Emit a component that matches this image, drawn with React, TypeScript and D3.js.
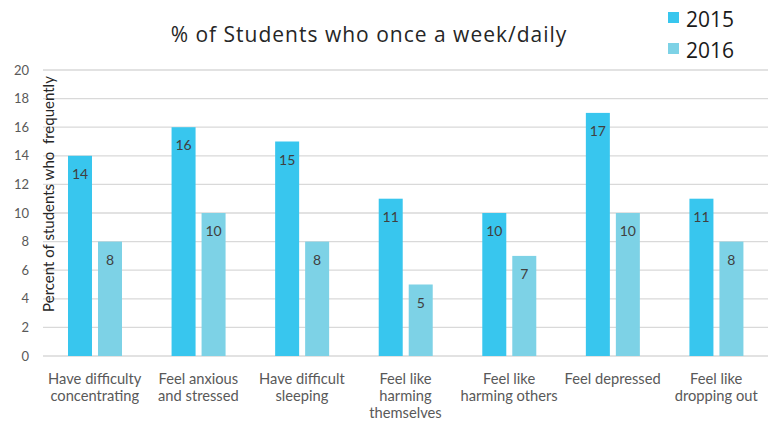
import React from "react";
import * as d3 from "d3";

const categories = [
  ["Have difficulty", "concentrating"],
  ["Feel anxious", "and stressed"],
  ["Have difficult", "sleeping"],
  ["Feel like", "harming", "themselves"],
  ["Feel like", "harming others"],
  ["Feel depressed"],
  ["Feel like", "dropping out"],
];
const series = ["2015", "2016"];
const values2015 = [14, 16, 15, 11, 10, 17, 11];
const values2016 = [8, 10, 8, 5, 7, 10, 8];
const yTicks = [0, 2, 4, 6, 8, 10, 12, 14, 16, 18, 20];
const colors = ["#38C6EE", "#7DD2E6"];

const W = 773;
const H = 422;
const left = 43;
const right = 768;
const top = 70;
const bottom = 356;

export default function App() {
  const keys = categories.map((c) => c.join(" "));
  const x0 = d3.scaleBand<string>().domain(keys).range([left, right]).padding(0);
  const x1 = d3.scaleBand<string>().domain(series).range([25, 79]).paddingInner(0.2);
  const y = d3.scaleLinear().domain([0, 20]).range([bottom, top]);
  const data = [values2015, values2016];
  const labelFont = "Lato, 'Open Sans', sans-serif";

  return (
    <svg width={W} height={H} style={{ position: "absolute", left: 0, top: 0, background: "#fff" }}>
      {yTicks.map((t) => (
        <g key={t}>
          <line x1={left} x2={right} y1={y(t)} y2={y(t)} stroke="#D9D9D9" strokeWidth={1.3} />
          <text x={29} y={y(t)} dy="0.35em" textAnchor="end" fontSize={13} fill="#595959" fontFamily={labelFont}>
            {t}
          </text>
        </g>
      ))}
      {keys.map((k, i) =>
        series.map((s, j) => {
          const v = data[j][i];
          const bx = (x0(k) as number) + (x1(s) as number);
          const bw = x1.bandwidth();
          return (
            <g key={k + s}>
              <rect x={bx} y={y(v)} width={bw} height={bottom - y(v)} fill={colors[j]} />
              <text x={bx + bw / 2} y={y(v) + 23} textAnchor="middle" fontSize={14} fill="#404040" fontFamily={labelFont}>
                {v}
              </text>
            </g>
          );
        })
      )}
      {categories.map((lines, i) => {
        const cx = (x0(keys[i]) as number) + x0.bandwidth() / 2;
        return (
          <text key={i} textAnchor="middle" fontSize={14.7} fill="#595959" fontFamily={labelFont}>
            {lines.map((l, li) => (
              <tspan key={li} x={cx} y={384 + li * 17}>
                {l}
              </tspan>
            ))}
          </text>
        );
      })}
      <text
        transform={`translate(54, 194) rotate(-90)`}
        textAnchor="middle"
        fontSize={15}
        fill="#262626"
        fontFamily={labelFont}
        style={{ whiteSpace: "pre" }}
      >
        {"Percent of students who  frequently"}
      </text>
      <text x={369} y={42} textAnchor="middle" fontSize={21} letterSpacing={1} fill="#262626" fontFamily="'Open Sans', sans-serif">
        % of Students who once a week/daily
      </text>
      {series.map((s, j) => (
        <g key={s}>
          <rect x={668} y={12 + j * 31} width={11} height={11} fill={colors[j]} />
          <text x={686} y={27 + j * 31} fontSize={21} fill="#1a1a1a" fontFamily="'Open Sans', sans-serif">
            {s}
          </text>
        </g>
      ))}
    </svg>
  );
}
